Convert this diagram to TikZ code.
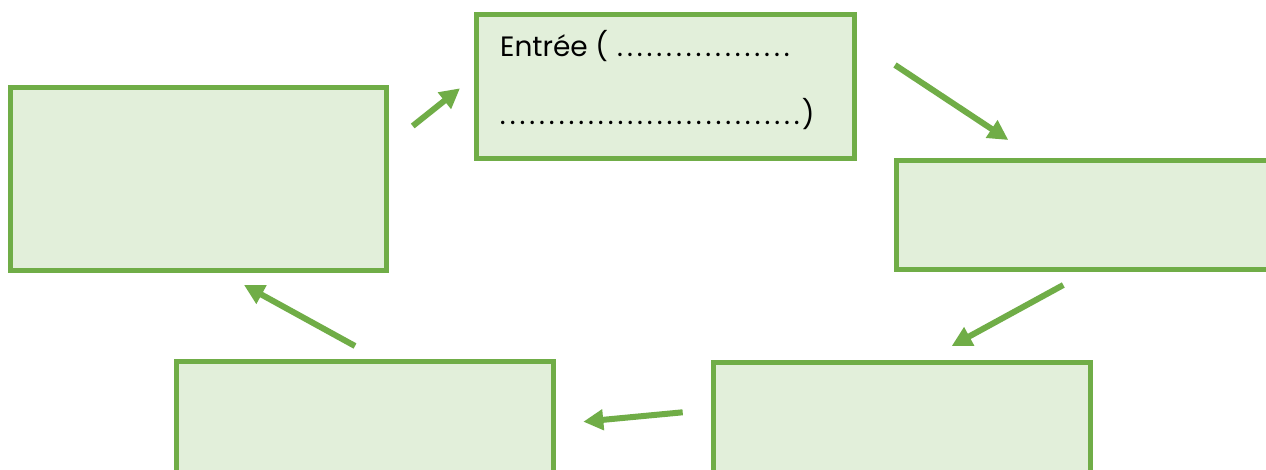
\documentclass[tikz,border=0pt]{standalone}
\usepackage{fontspec}
\setmainfont{Poppins}
\usetikzlibrary{arrows.meta}
\definecolor{gline}{HTML}{70AD47}
\definecolor{gfill}{HTML}{E2EFDA}
\newcommand{\dotrow}[1]{\hbox to #1{\xleaders\hbox to 9.8bp{\hss.\hss}\hfill}}
\tikzset{
  box/.style={draw=gline, fill=gfill, line width=5bp},
  flow/.style={draw=gline, line width=6bp, -{Triangle[length=20bp,width=20bp]}},
  lbl/.style={inner sep=0pt, anchor=base west, font=\fontsize{28bp}{30bp}\selectfont}
}
\begin{document}
\begin{tikzpicture}[x=1bp,y=-1bp]
\useasboundingbox (0,0) rectangle (1266,470);
\clip (0,0) rectangle (1266,470);
\fill[white] (0,0) rectangle (1266,470);
% boxes
\draw[box] (10,87.5) rectangle (386.5,270.5) node[midway, inner sep=0pt] (A) {};
\draw[box] (476,15) rectangle (854,159) node[midway, inner sep=0pt] (B) {};
\draw[box] (896.5,160.5) rectangle (1290,270) node[midway, inner sep=0pt] (C) {};
\draw[box] (713.5,363) rectangle (1090.5,490) node[midway, inner sep=0pt] (D) {};
\draw[box] (176,361.5) rectangle (553.5,490) node[midway, inner sep=0pt] (E) {};
% text
\node[lbl] (t1) at (500,56.7) {\makebox[115.1bp][l]{Entrée (}\dotrow{176.4bp}};
\node[lbl] (t2) at (497.8,125) {\dotrow{303.8bp})};
% connector ends
\coordinate (a1) at (412.7,126);  \coordinate (b1) at (460,88.3);
\coordinate (b2) at (895,65);     \coordinate (c2) at (1008.3,140);
\coordinate (c3) at (1063.3,285); \coordinate (d3) at (951.7,346);
\coordinate (d4) at (682.7,412.3);\coordinate (e4) at (583.3,421.7);
\coordinate (e5) at (355,346);    \coordinate (a5) at (244,285);
\draw[flow] (a1) -- (b1);
\draw[flow] (b2) -- (c2);
\draw[flow] (c3) -- (d3);
\draw[flow] (d4) -- (e4);
\draw[flow] (e5) -- (a5);
\end{tikzpicture}
\end{document}
